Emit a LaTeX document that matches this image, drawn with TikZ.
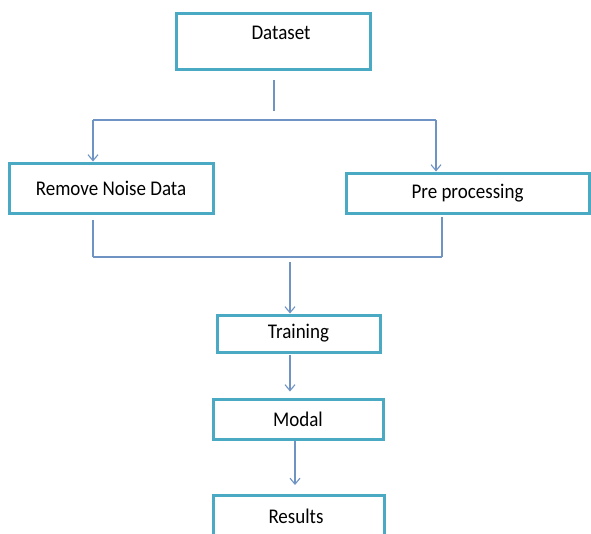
\documentclass[tikz,border=0pt]{standalone}
\usepackage{fontspec}
\setmainfont{Carlito}
\usetikzlibrary{arrows.meta}
\definecolor{boxline}{HTML}{4AAAC4}
\definecolor{conn}{HTML}{6F93C3}
\newcommand{\lbltext}[1]{\scalebox{1}[1.1]{#1}}
\begin{document}
\begin{tikzpicture}[x=1pt,y=-1pt,
  box/.style={draw=boxline,line width=3pt,fill=white,inner sep=0pt,
    font=\fontsize{19}{22}\selectfont},
  lbl/.style={inner sep=0pt,font=\fontsize{19}{22}\selectfont},
  ln/.style={draw=conn,line width=1.3pt},
  arr/.style={ln,-{Straight Barb[length=6pt,width=10pt,line width=1.1pt]}}]
\useasboundingbox (0,0) rectangle (591,533);
\clip (0,0) rectangle (591,533);
% process boxes
\node[box,minimum width=194pt,minimum height=56pt] (dataset) at (273,41) {};
\node[lbl] (datasettext) at (281,33) {\lbltext{Dataset}};
\node[box,minimum width=204pt,minimum height=50pt] (noise) at (111,188) {\lbltext{Remove Noise Data}};
\node[box,minimum width=243pt,minimum height=40pt] (pre) at (467.5,193) {\lbltext{Pre processing}};
\node[box,minimum width=163pt,minimum height=37pt] (train) at (298.5,333.5) {\lbltext{Training}};
\node[box,minimum width=170pt,minimum height=40pt] (modal) at (298,419) {\lbltext{Modal}};
\node[box,minimum width=171pt,minimum height=60pt,anchor=north] (results) at (298.5,494) {};
\node[lbl] (resultstext) at (296,516) {\lbltext{Results}};
% split below the dataset
\coordinate (split) at (274,120);
\coordinate (splitL) at (93,120);
\coordinate (splitR) at (436,120);
\draw[ln,shorten <=9.5pt,shorten >=9pt] (dataset.south -| split) -- (split);
\draw[ln] (splitL) -- (splitR);
\draw[arr] (splitL) -- (splitL |- noise.north);
\draw[arr] (splitR) -- (splitR |- pre.north);
% merge into training
\coordinate (mergeL) at (93,257);
\coordinate (mergeR) at (442,257);
\coordinate (mergeC) at (290,257);
\draw[ln,shorten <=5.5pt] (mergeL |- noise.south) -- (mergeL);
\draw[ln,shorten <=2pt] (mergeR |- pre.south) -- (mergeR);
\draw[ln] (mergeL) -- (mergeR);
\draw[arr,shorten <=5pt] (mergeC) -- (mergeC |- train.north);
% chain to results
\coordinate (tm) at (290,0);
\coordinate (mr) at (295,0);
\draw[arr,shorten <=1pt,shorten >=6pt] (tm |- train.south) -- (tm |- modal.north);
\draw[arr,shorten >=9pt] (mr |- modal.south) -- (mr |- results.north);
\end{tikzpicture}
\end{document}
